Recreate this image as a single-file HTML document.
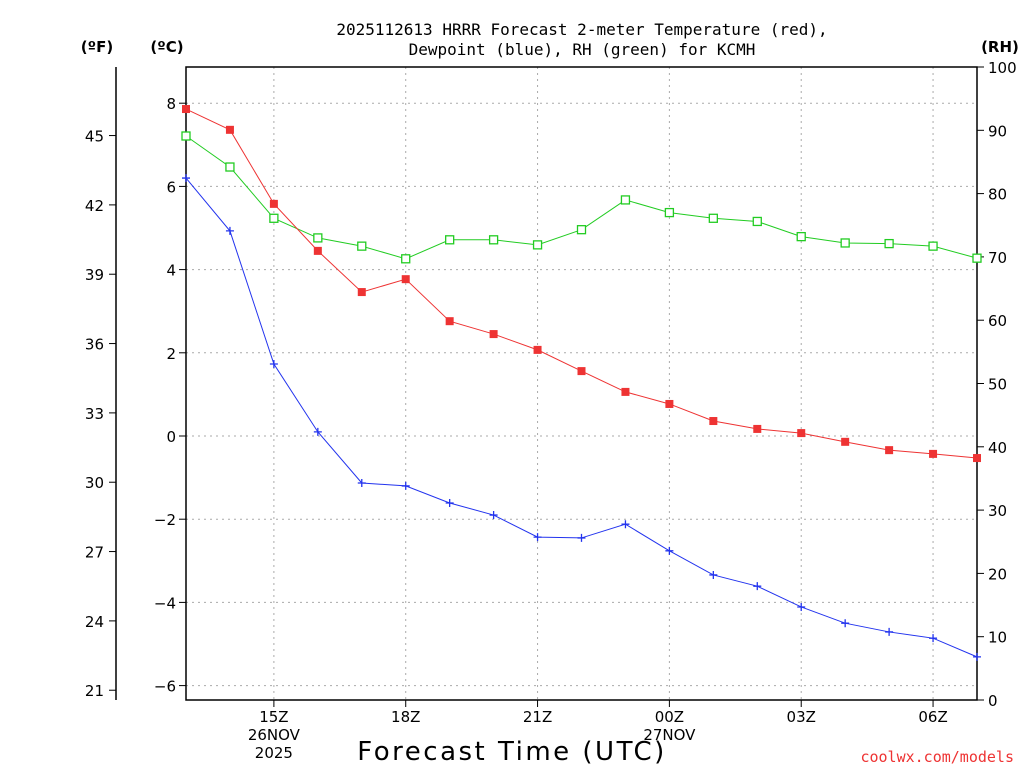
<!DOCTYPE html>
<html><head><meta charset="utf-8"><style>
body{margin:0;background:#fff;width:1024px;height:768px;overflow:hidden}
svg text{font-family:"DejaVu Sans","Liberation Sans",sans-serif}
svg text.mono{font-family:"DejaVu Sans Mono","Liberation Mono",monospace}
</style></head><body>
<svg id="c" width="1024" height="768">
<text class="mono" x="582" y="35" font-size="16" text-anchor="middle">2025112613 HRRR Forecast 2-meter Temperature (red),</text>
<text class="mono" x="582" y="55" font-size="16" text-anchor="middle">Dewpoint (blue), RH (green) for KCMH</text>
<text x="97" y="52" font-size="15" font-weight="bold" text-anchor="middle">(ºF)</text>
<text x="167" y="52" font-size="15" font-weight="bold" text-anchor="middle">(ºC)</text>
<text x="1000" y="52" font-size="15" font-weight="bold" text-anchor="middle">(RH)</text>
<text x="512" y="760" font-size="26" letter-spacing="2.5" text-anchor="middle">Forecast Time (UTC)</text>
<text class="mono" x="1014" y="762" font-size="15" fill="#e33" text-anchor="end">coolwx.com/models</text>
<g id="g"></g>
</svg>
<script>
const hours=["13Z","14Z","15Z","16Z","17Z","18Z","19Z","20Z","21Z","22Z","23Z","00Z","01Z","02Z","03Z","04Z","05Z","06Z","07Z"];
const tempC=[7.86,7.36,5.58,4.45,3.46,3.77,2.76,2.45,2.07,1.56,1.06,0.77,0.36,0.17,0.07,-0.14,-0.34,-0.43,-0.53];
const dewC=[6.20,4.93,1.73,0.10,-1.13,-1.20,-1.61,-1.90,-2.43,-2.45,-2.12,-2.76,-3.34,-3.61,-4.11,-4.50,-4.71,-4.86,-5.31];
const rh=[89.1,84.2,76.1,73.0,71.7,69.7,72.7,72.7,71.9,74.3,79.0,77.0,76.1,75.6,73.2,72.2,72.1,71.7,69.8];
const cTicks=[-6,-4,-2,0,2,4,6,8];
const fTicks=[21,24,27,30,33,36,39,42,45];
const rhTicks=[0,10,20,30,40,50,60,70,80,90,100];
const xLabels=[[2,"15Z","26NOV","2025"],[5,"18Z"],[8,"21Z"],[11,"00Z","27NOV"],[14,"03Z"],[17,"06Z"]];
const L=186,R=977,T=67,B=700;
const x=i=>L+i*(R-L)/(hours.length-1);
const yC=c=>436-41.6*c;
const yF=f=>yC((f-32)/1.8);
const yR=r=>B-r*(B-T)/100;
const g=document.getElementById('g');const NS="http://www.w3.org/2000/svg";
function mk(t,a,p){const e=document.createElementNS(NS,t);for(const k in a)e.setAttribute(k,a[k]);(p||g).appendChild(e);return e;}
let e;
cTicks.forEach(c=>{e=mk('line',{x1:L,x2:R,y1:yC(c),y2:yC(c),stroke:'#aaa','stroke-dasharray':'2,4'});

});
xLabels.forEach(l=>{e=mk('line',{x1:x(l[0]),x2:x(l[0]),y1:T,y2:B,stroke:'#aaa','stroke-dasharray':'2,4'});

});
e=mk('rect',{x:L,y:T,width:R-L,height:B-T,fill:'none',stroke:'#000','stroke-width':1.5});


e=mk('line',{x1:116,x2:116,y1:T,y2:B,stroke:'#000','stroke-width':1.5});


cTicks.forEach(c=>{mk('line',{x1:L-7,x2:L,y1:yC(c),y2:yC(c),stroke:'#000'});
e=mk('text',{x:L-10,y:yC(c)+6,'font-size':15,'text-anchor':'end'});e.textContent=(c<0?'\u2212'+(-c):c);

});
fTicks.forEach(f=>{mk('line',{x1:109,x2:116,y1:yF(f),y2:yF(f),stroke:'#000'});
e=mk('text',{x:104,y:yF(f)+6,'font-size':15,'text-anchor':'end'});e.textContent=f;

});
rhTicks.forEach(r=>{mk('line',{x1:R,x2:R+7,y1:yR(r),y2:yR(r),stroke:'#000'});
e=mk('text',{x:988,y:yR(r)+6,'font-size':15});e.textContent=r;

});
xLabels.forEach(l=>{mk('line',{x1:x(l[0]),x2:x(l[0]),y1:B,y2:B+7,stroke:'#000'});
for(let k=1;k<l.length;k++){e=mk('text',{x:x(l[0]),y:B+22+(k-1)*18,'font-size':15,'text-anchor':'middle'});e.textContent=l[k];

}});
function series(vals,yf,col,name,marker){
 e=mk('polyline',{points:vals.map((v,i)=>x(i)+','+yf(v)).join(' '),fill:'none',stroke:col,'stroke-width':1});
 
 
 vals.forEach((v,i)=>{const px=x(i),py=yf(v);
  if(marker==='sq'){e=mk('rect',{x:px-4,y:py-4,width:8,height:8,fill:col});}
  else if(marker==='open'){e=mk('rect',{x:px-4,y:py-4,width:8,height:8,fill:'#fff',stroke:col,'stroke-width':1.3});}
  else{e=mk('path',{d:`M${px-4},${py}H${px+4}M${px},${py-4}V${py+4}`,stroke:col,'stroke-width':1.3});}
  
  });
}
series(rh,yR,'#22cc22','rh','open');
series(tempC,yC,'#ee3333','temperature','sq');
series(dewC,yC,'#2233ee','dewpoint','plus');
</script>
</body></html>
